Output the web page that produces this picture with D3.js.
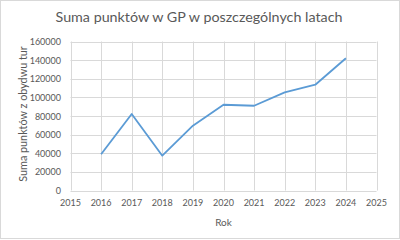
<!DOCTYPE html>
<html>
<head>
<meta charset="utf-8">
<script src="https://cdn.jsdelivr.net/npm/d3@7"></script>
<style>
  html, body { margin: 0; padding: 0; background: #fff; }
  text { font-family: Lato, "Open Sans", sans-serif; fill: #595959; }
</style>
</head>
<body>
<svg id="chart" width="400" height="240"></svg>
<script>
// Data
const years = [2016, 2017, 2018, 2019, 2020, 2021, 2022, 2023, 2024];
const points = [38900, 82100, 37400, 69600, 92100, 91000, 105400, 113600, 142000];
const xTicks = [2015, 2016, 2017, 2018, 2019, 2020, 2021, 2022, 2023, 2024, 2025];
const yTicks = [0, 20000, 40000, 60000, 80000, 100000, 120000, 140000, 160000];

const svg = d3.select("#chart");
const W = 400, H = 240;
const m = { left: 70.5, right: 23.5, top: 41.5, bottom: 49.5 };

// Outer chart border
svg.append("rect")
  .attr("x", 0.5).attr("y", 0.5)
  .attr("width", W - 1).attr("height", H - 2)
  .attr("fill", "#fff")
  .attr("stroke", "#d9d9d9");

const x = d3.scaleLinear().domain([2015, 2025]).range([m.left, W - m.right]);
const y = d3.scaleLinear().domain([0, 160000]).range([H - m.bottom, m.top]);

// Gridlines
svg.append("g").selectAll("line.v")
  .data(xTicks).join("line")
  .attr("x1", d => Math.round(x(d)) + 0.5).attr("x2", d => Math.round(x(d)) + 0.5)
  .attr("y1", y(0)).attr("y2", y(160000))
  .attr("stroke", "#d9d9d9");

svg.append("g").selectAll("line.h")
  .data(yTicks).join("line")
  .attr("x1", x(2015)).attr("x2", x(2025))
  .attr("y1", d => Math.round(y(d)) + 0.5).attr("y2", d => Math.round(y(d)) + 0.5)
  .attr("stroke", "#d9d9d9");

// Tick labels
svg.append("g").selectAll("text")
  .data(yTicks).join("text")
  .attr("x", 61).attr("y", d => y(d) + 3.5)
  .attr("text-anchor", "end")
  .attr("font-size", 9)
  .text(d => d);

svg.append("g").selectAll("text")
  .data(xTicks).join("text")
  .attr("x", d => x(d)).attr("y", 206)
  .attr("text-anchor", "middle")
  .attr("font-size", 9)
  .text(d => d);

// Line
const line = d3.line()
  .x((d, i) => x(years[i]))
  .y(d => y(d));

svg.append("path")
  .datum(points)
  .attr("d", line)
  .attr("fill", "none")
  .attr("stroke", "#5b9bd5")
  .attr("stroke-width", 1.8)
  .attr("stroke-linejoin", "round");

// Titles
svg.append("text")
  .attr("x", 199).attr("y", 22)
  .attr("text-anchor", "middle")
  .attr("font-size", 14.3)
  .text("Suma punktów w GP w poszczególnych latach");

svg.append("text")
  .attr("x", (x(2015) + x(2025)) / 2).attr("y", 226)
  .attr("text-anchor", "middle")
  .attr("font-size", 10)
  .text("Rok");

svg.append("text")
  .attr("transform", "translate(26.5,114) rotate(-90)")
  .attr("text-anchor", "middle")
  .attr("font-size", 10.8)
  .text("Suma punktów z obydwu tur");
</script>
</body>
</html>
